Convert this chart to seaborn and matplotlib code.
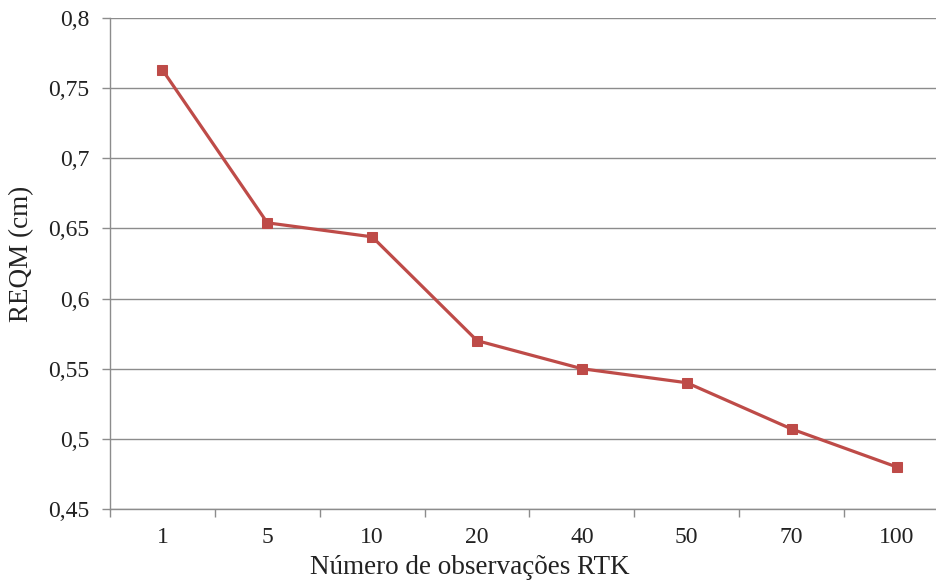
import matplotlib
matplotlib.use("Agg")
import matplotlib.pyplot as plt
import seaborn as sns
import numpy as np
from matplotlib.ticker import FuncFormatter, FixedLocator

categories = ["1", "5", "10", "20", "40", "50", "70", "100"]
reqm = [0.763, 0.654, 0.644, 0.570, 0.550, 0.540, 0.507, 0.480]
yticks = [0.45, 0.5, 0.55, 0.6, 0.65, 0.7, 0.75, 0.8]

sns.set_style("white")
plt.rcParams["font.family"] = ["Liberation Serif", "DejaVu Serif"]

fig = plt.figure(figsize=(9.37, 5.86), dpi=100)
ax = fig.add_axes([110/937, 1-509/586, 839/937, (509-18)/586])

sns.lineplot(x=categories, y=reqm, ax=ax, color="#BE4B48", linewidth=2.3,
             marker="s", markersize=7, markeredgecolor="#BE4B48", sort=False)

ax.set_xlim(-0.5, 7.5)
ax.set_ylim(0.45, 0.8)
ax.set_yticks(yticks)
ax.yaxis.set_major_formatter(FuncFormatter(lambda v, p: f"{v:g}".replace(".", ",")))
ax.grid(axis="y", color="#8C8C8C", linewidth=1)
ax.set_axisbelow(True)

ax.set_xticks(range(len(categories)))
ax.set_xticklabels(categories)
ax.xaxis.set_minor_locator(FixedLocator(np.arange(-0.5, 8, 1)))
ax.tick_params(axis="x", which="major", length=0, pad=13, labelsize=17, colors="#222222")
ax.tick_params(axis="x", which="minor", length=6, width=1, color="#8C8C8C", bottom=True)
ax.tick_params(axis="y", which="major", length=6, width=1, color="#8C8C8C", left=True,
               labelsize=17, pad=9, labelcolor="#222222")

for s in ["top", "right"]:
    ax.spines[s].set_visible(False)
for s in ["left", "bottom"]:
    ax.spines[s].set_color("#8C8C8C")
    ax.spines[s].set_linewidth(1)

ax.set_xlabel("Número de observações RTK", fontsize=19.5, color="#222222")
ax.set_ylabel("REQM (cm)", fontsize=19.5, color="#222222")
ax.xaxis.set_label_coords(0.429, -0.094)
ax.yaxis.set_label_coords(-0.090, 0.52)

fig.savefig("out.png", dpi=100)
